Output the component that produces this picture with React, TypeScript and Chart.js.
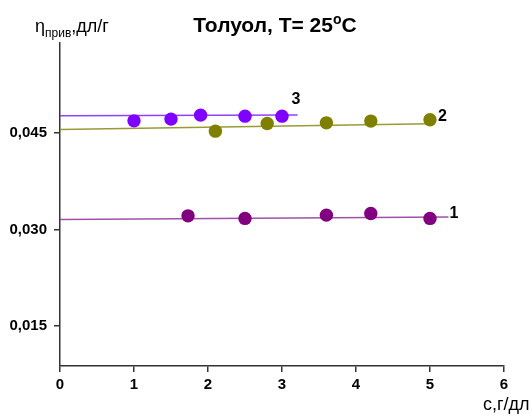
import React, { useEffect, useRef } from "react";
import { Chart, registerables } from "chart.js";

Chart.register(...registerables);

// concentration, g/dl
const xTicks = [0, 1, 2, 3, 4, 5, 6];
const yTicks = [0.015, 0.03, 0.045];

const series1X = [1.73, 2.5, 3.6, 4.2, 5.0];
const series1Y = [0.03211, 0.03171, 0.03222, 0.03248, 0.03171];
const series2X = [2.1, 2.8, 3.6, 4.2, 5.0];
const series2Y = [0.04526, 0.04646, 0.04655, 0.04682, 0.04703];
const series3X = [1.0, 1.5, 1.9, 2.5, 3.0];
const series3Y = [0.04686, 0.04713, 0.04775, 0.04759, 0.04759];

// fitted straight lines (start / end)
const fit1X = [0, 5.25];
const fit1Y = [0.03155, 0.03193];
const fit2X = [0, 5.0];
const fit2Y = [0.04553, 0.04642];
const fit3X = [0, 3.21];
const fit3Y = [0.04764, 0.04775];

const seriesLabels = ["1", "2", "3"];
const titleMain = "Толуол, T= 25";
const titleSup = "o";
const titleEnd = "C";
const yTitleMain = "η";
const yTitleSub = "прив";
const yTitleEnd = ",дл/г";
const xTitle = "с,г/дл";

const FONT = "'Liberation Sans', Arial, sans-serif";

const pts = (xs: number[], ys: number[]) => xs.map((x, i) => ({ x, y: ys[i] }));

const textPlugin = {
  id: "texts",
  afterDraw(chart: any) {
    const ctx = chart.ctx as CanvasRenderingContext2D;
    const xs = chart.scales.x;
    const ys = chart.scales.y;
    ctx.save();
    ctx.fillStyle = "#000";
    ctx.textBaseline = "alphabetic";
    ctx.textAlign = "left";

    // title
    ctx.font = `bold 21px ${FONT}`;
    const w1 = ctx.measureText(titleMain).width;
    ctx.font = `bold 14px ${FONT}`;
    const w2 = ctx.measureText(titleSup).width;
    ctx.font = `bold 21px ${FONT}`;
    const w3 = ctx.measureText(titleEnd).width;
    const total = w1 + w2 + w3;
    let tx = 275 - total / 2;
    ctx.fillText(titleMain, tx, 32);
    tx += w1;
    ctx.font = `bold 14px ${FONT}`;
    ctx.fillText(titleSup, tx, 24);
    tx += w2;
    ctx.font = `bold 21px ${FONT}`;
    ctx.fillText(titleEnd, tx, 32);

    // y title
    let yx = 35;
    ctx.font = `18px ${FONT}`;
    ctx.fillText(yTitleMain, yx, 31.5);
    yx += ctx.measureText(yTitleMain).width;
    ctx.font = `12px ${FONT}`;
    ctx.fillText(yTitleSub, yx, 36.5);
    yx += ctx.measureText(yTitleSub).width;
    ctx.font = `18px ${FONT}`;
    ctx.fillText(yTitleEnd, yx, 31.5);

    // x title
    ctx.textAlign = "right";
    ctx.fillText(xTitle, 529.5, 410);

    // series labels near fitted line ends
    ctx.textAlign = "left";
    ctx.textBaseline = "middle";
    ctx.font = `bold 16px ${FONT}`;
    const ends = [
      [fit1X[1], fit1Y[1], 1, -3],
      [fit2X[1], fit2Y[1], 8, -7],
      [fit3X[1], fit3Y[1], -6, -15.5],
    ];
    ends.forEach((e, i) => {
      const px = xs.getPixelForValue(e[0]) + e[2];
      const py = ys.getPixelForValue(e[1]) + e[3];
      ctx.fillText(seriesLabels[i], px, py);
    });
    ctx.restore();
  },
};

export default function App() {
  const ref = useRef<HTMLCanvasElement | null>(null);
  useEffect(() => {
    if (!ref.current) return;
    const lineDs = (xs: number[], ys: number[], color: string) => ({
      data: pts(xs, ys),
      showLine: true,
      borderColor: color,
      borderWidth: 1.5,
      pointRadius: 0,
      fill: false,
      order: 2,
    });
    const pointDs = (xs: number[], ys: number[], color: string) => ({
      data: pts(xs, ys),
      showLine: false,
      backgroundColor: color,
      borderColor: color,
      borderWidth: 0,
      pointRadius: 6.7,
      order: 1,
    });
    const chart = new Chart(ref.current, {
      type: "scatter",
      data: {
        datasets: [
          lineDs(fit1X, fit1Y, "#a050a8"),
          lineDs(fit2X, fit2Y, "#9a9a35"),
          lineDs(fit3X, fit3Y, "#9040ff"),
          pointDs(series1X, series1Y, "#800080"),
          pointDs(series2X, series2Y, "#808000"),
          pointDs(series3X, series3Y, "#8000ff"),
        ] as any,
      },
      options: {
        animation: false,
        responsive: false,
        devicePixelRatio: 1,
        layout: { padding: { top: 43, right: 28, left: 0, bottom: 0 } },
        plugins: {
          legend: { display: false },
          tooltip: { enabled: false },
          title: { display: false },
        },
        scales: {
          x: {
            type: "linear",
            min: 0,
            max: 6,
            afterBuildTicks: (s: any) => {
              s.ticks = xTicks.map((v) => ({ value: v }));
            },
            afterFit: (s: any) => {
              s.height = 52;
            },
            grid: {
              display: true,
              drawOnChartArea: false,
              drawTicks: true,
              tickLength: 6,
              color: "#333",
              lineWidth: 1.5,
            },
            border: { display: true, color: "#333", width: 1.5 },
            ticks: {
              color: "#000",
              font: { family: FONT, size: 15, weight: "bold" },
              padding: 4,
              autoSkip: false,
              maxRotation: 0,
            },
          },
          y: {
            type: "linear",
            min: 0.00879,
            max: 0.05895,
            afterBuildTicks: (s: any) => {
              s.ticks = yTicks.map((v) => ({ value: v }));
            },
            afterFit: (s: any) => {
              s.width = 60;
            },
            grid: {
              display: true,
              drawOnChartArea: false,
              drawTicks: true,
              tickLength: 6,
              color: "#333",
              lineWidth: 1.5,
            },
            border: { display: true, color: "#333", width: 1.5 },
            ticks: {
              color: "#000",
              font: { family: FONT, size: 15, weight: "bold" },
              padding: 7,
              autoSkip: false,
              callback: (v: any) => Number(v).toFixed(3).replace(".", ","),
            },
          },
        },
      } as any,
      plugins: [textPlugin],
    });
    return () => chart.destroy();
  }, []);
  return (
    <div style={{ position: "absolute", left: 0, top: 0, width: 532, height: 418, background: "#fff" }}>
      <canvas ref={ref} width={532} height={418} style={{ width: 532, height: 418, display: "block" }} />
    </div>
  );
}
